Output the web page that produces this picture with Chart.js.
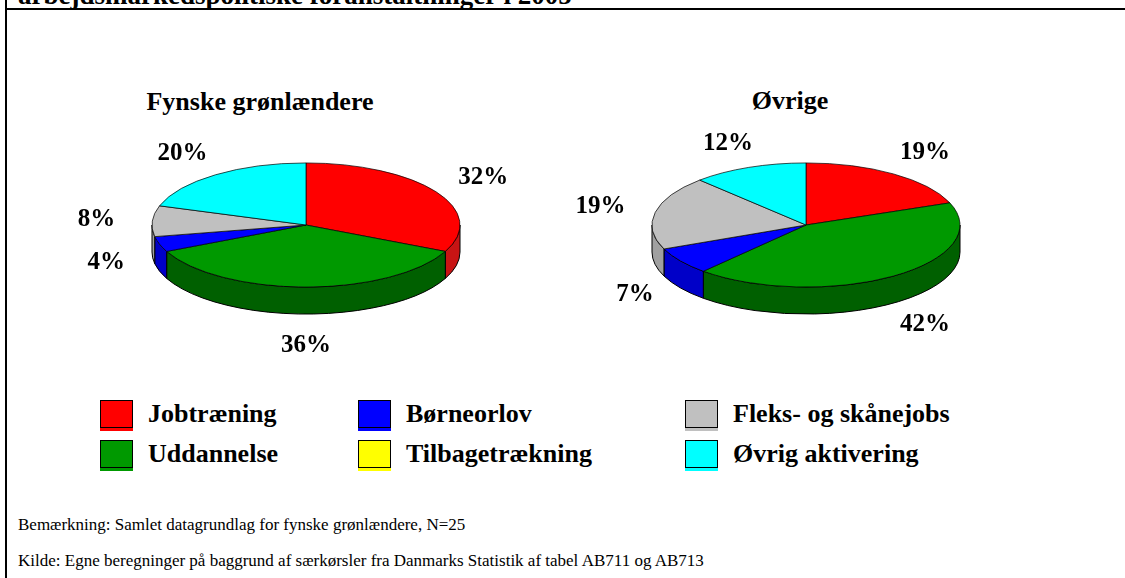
<!DOCTYPE html>
<html>
<head>
<meta charset="utf-8">
<title>Aktivering 2005</title>
<script src="https://cdn.jsdelivr.net/npm/chart.js"></script>
<style>
  body { margin: 0; background: #fff; }
  #page { position: relative; width: 1125px; height: 578px; overflow: hidden;
          font-family: "Liberation Serif", "Times New Roman", serif; color: #000; }
  #topTitle { position: absolute; left: 18px; top: -18px; font-weight: bold; font-size: 27px;
              line-height: 27px; white-space: nowrap; }
  #lineTop { position: absolute; left: 5px; top: 8px; width: 1120px; height: 2px; background: #000; }
  #lineLeft { position: absolute; left: 5px; top: 0; width: 2px; height: 578px; background: #000; }
  .pieTitle { position: absolute; font-weight: bold; font-size: 26px; line-height: 30px;
              white-space: nowrap; transform: translateX(-50%); }
  canvas { position: absolute; }
  .legItem { position: absolute; height: 28px; white-space: nowrap; }
  .legBox { position: absolute; left: 0; top: 0; width: 31px; height: 26px; border: 1px solid #000; }
  .legText { position: absolute; top: -1px; font-weight: bold; font-size: 26px; line-height: 30px; }
  .note { position: absolute; left: 18px; font-size: 17px; line-height: 20px; white-space: nowrap; }
</style>
</head>
<body>
<div id="page">
  <div id="topTitle">arbejdsmarkedspolitiske foranstaltninger i 2005</div>
  <div id="lineTop"></div>
  <div id="lineLeft"></div>
  <div class="pieTitle" id="title0" style="left:260px; top:87px;"></div>
  <div class="pieTitle" id="title1" style="left:790px; top:86px;"></div>
  <canvas id="pieA" width="520" height="320" style="left:46px; top:65px;"></canvas>
  <canvas id="pieB" width="520" height="320" style="left:546px; top:65px;"></canvas>
  <div id="legend"></div>
  <div class="note" style="top:515px;">Bemærkning: Samlet datagrundlag for fynske grønlændere, N=25</div>
  <div class="note" style="top:551px;">Kilde: Egne beregninger på baggrund af særkørsler fra Danmarks Statistik af tabel AB711 og AB713</div>
</div>

<script>
  // categories in data order (clockwise from 12 o'clock)
  var categories = ["Jobtræning", "Uddannelse", "Børneorlov", "Tilbagetrækning", "Fleks- og skånejobs", "Øvrig aktivering"];
  var fynskeValues = [32, 36, 4, 0, 8, 20];
  var ovrigeValues = [19, 42, 7, 0, 19, 12];
  var pieTitles = ["Fynske grønlændere", "Øvrige"];

  var sliceColors = ["#ff0000", "#009900", "#0000ff", "#ffff00", "#c0c0c0", "#00ffff"];
  var wallColors = ["#c81414", "#006000", "#0000c8", "#c8c800", "#a0a0a0", "#00c0c0"];

  // legend: 2 rows, filled column by column
  var legendCols = [100, 358, 685];
  var legendRows = [400, 440];

  document.getElementById("title0").textContent = pieTitles[0];
  document.getElementById("title1").textContent = pieTitles[1];

  var legend = document.getElementById("legend");
  categories.forEach(function (name, i) {
    var item = document.createElement("div");
    item.className = "legItem";
    item.style.left = legendCols[Math.floor(i / 2)] + "px";
    item.style.top = legendRows[i % 2] + "px";
    var box = document.createElement("div");
    box.className = "legBox";
    box.style.background = sliceColors[i];
    box.style.boxShadow = "0 3px 0 " + sliceColors[i];
    var txt = document.createElement("div");
    txt.className = "legText";
    txt.style.left = "48px";
    txt.textContent = name;
    item.appendChild(box);
    item.appendChild(txt);
    legend.appendChild(item);
  });

  // squash the pie into a tilted disc and give it a side wall
  var pie3d = {
    id: "pie3d",
    beforeDatasetsDraw: function (chart, args, opts) {
      var ctx = chart.ctx;
      var meta = chart.getDatasetMeta(0);
      var first = meta.data[0];
      var cx = first.x, cy = first.y;
      var rx = first.outerRadius, ry = rx * opts.tilt;
      ctx.save();
      ctx.lineWidth = 1;
      ctx.strokeStyle = "#000";
      meta.data.forEach(function (arc, i) {
        var lo = Math.max(arc.startAngle, 0);
        var hi = Math.min(arc.endAngle, Math.PI);
        if (hi <= lo) return;
        ctx.beginPath();
        ctx.ellipse(cx, cy, rx, ry, 0, lo, hi);
        ctx.ellipse(cx, cy + opts.depth, rx, ry, 0, hi, lo, true);
        ctx.closePath();
        ctx.fillStyle = wallColors[i];
        ctx.fill();
        ctx.stroke();
      });
      ctx.restore();
      ctx.save();
      ctx.translate(cx, cy);
      ctx.scale(1, opts.tilt);
      ctx.translate(-cx, -cy);
    },
    afterDatasetsDraw: function (chart, args, opts) {
      var ctx = chart.ctx;
      ctx.restore();
      var meta = chart.getDatasetMeta(0);
      var values = chart.data.datasets[0].data;
      ctx.save();
      ctx.font = "bold 25px 'Liberation Serif', serif";
      ctx.fillStyle = "#000";
      ctx.textAlign = "center";
      ctx.textBaseline = "middle";
      meta.data.forEach(function (arc, i) {
        if (!values[i]) return;
        var a = (arc.startAngle + arc.endAngle) / 2;
        var s = Math.sin(a), c = Math.cos(a);
        var x = arc.x + opts.labelRx * c;
        var y = arc.y + opts.labelRy * s + (s > 0 ? opts.depth * 1.2 * s : 0);
        ctx.fillText(values[i] + "%", x, y);
      });
      ctx.restore();
    }
  };

  function drawPie(id, values) {
    var ctx = document.getElementById(id).getContext("2d");
    return new Chart(ctx, {
      type: "pie",
      data: {
        labels: categories,
        datasets: [{
          data: values,
          backgroundColor: sliceColors,
          borderColor: "#000",
          borderWidth: values.map(function (v) { return v ? 1 : 0; })
        }]
      },
      options: {
        responsive: false,
        animation: false,
        events: [],
        radius: 154,
        plugins: {
          legend: { display: false },
          tooltip: { enabled: false },
          pie3d: { tilt: 0.403, depth: 27, labelRx: 210, labelRy: 88 }
        }
      },
      plugins: [pie3d]
    });
  }

  drawPie("pieA", fynskeValues);
  drawPie("pieB", ovrigeValues);
</script>
</body>
</html>
